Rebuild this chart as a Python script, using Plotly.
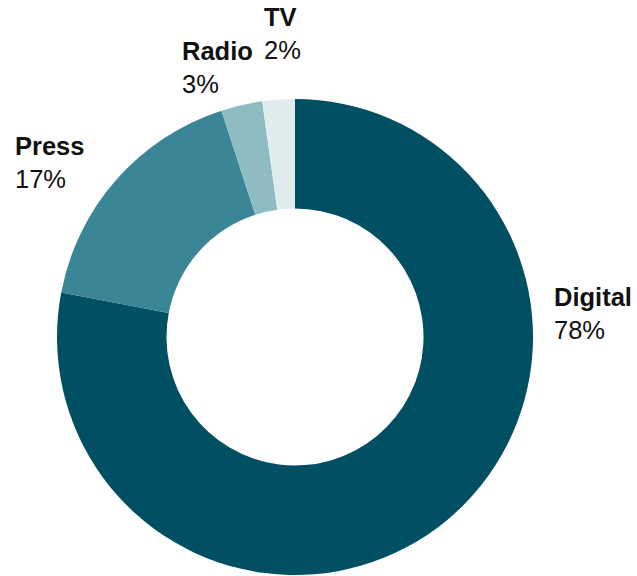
import plotly.graph_objects as go

categories = ["Digital", "Press", "Radio", "TV"]
shares = [78.0, 17.0, 2.8, 2.2]
share_labels = ["78%", "17%", "3%", "2%"]
colors = ["#004f63", "#3a8596", "#8fbbc3", "#e1ecee"]

W, H = 637, 576

fig = go.Figure(go.Pie(
    labels=categories,
    values=shares,
    sort=False,
    direction="clockwise",
    rotation=0,
    hole=0.54,
    marker=dict(colors=colors, line=dict(width=0)),
    textinfo="none",
    hoverinfo="label+percent",
    domain=dict(x=[57 / W, 533 / W], y=[1 / H, 477 / H]),
    showlegend=False,
))

# label anchors (left/top, pixel)
label_pos = {"Digital": (552, 281), "Press": (13, 130), "Radio": (180, 35), "TV": (262, 1)}
for cat, lab in zip(categories, share_labels):
    px, py = label_pos[cat]
    fig.add_annotation(
        x=px / W, y=1 - py / H, xref="paper", yref="paper",
        xanchor="left", yanchor="top", align="left",
        text=f"<b>{cat}</b><br>{lab}", showarrow=False,
        font=dict(family="Liberation Sans, Arial, sans-serif", size=25.5, color="#111111"),
    )

fig.update_layout(
    width=W, height=H,
    margin=dict(l=0, r=0, t=0, b=0),
    paper_bgcolor="white", plot_bgcolor="white",
)

fig.write_html("out.html")
